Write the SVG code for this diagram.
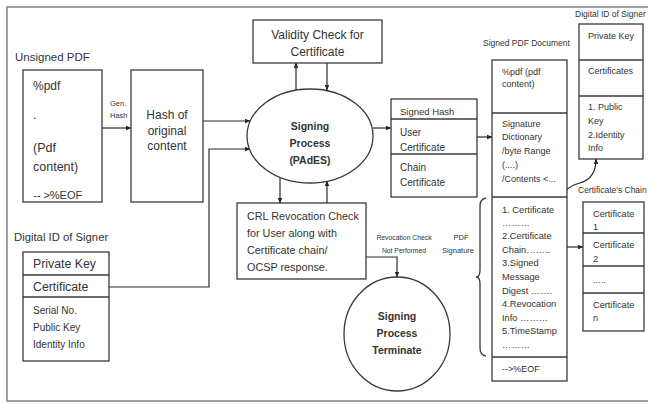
<svg xmlns="http://www.w3.org/2000/svg" width="648" height="404" viewBox="0 0 648 404">
<defs>
<marker id="ah" viewBox="0 0 10 10" refX="9" refY="5" markerWidth="6" markerHeight="6" orient="auto-start-reverse" markerUnits="userSpaceOnUse">
<path d="M0,1 L10,5 L0,9 z" fill="#262626"/>
</marker>
<style>
text{font-family:"Liberation Sans",Arial,sans-serif;fill:#333333;}
.box{fill:#ffffff;stroke:#3a3a3a;stroke-width:1.3;}
.ln{fill:none;stroke:#3a3a3a;stroke-width:1.3;}
.con{fill:none;stroke:#2a2a2a;stroke-width:1.2;}
.arr{fill:none;stroke:#2a2a2a;stroke-width:1.2;marker-end:url(#ah);}
.b{font-weight:bold;}
.mid{text-anchor:middle;}
</style>
</defs>
<rect x="0" y="0" width="648" height="404" fill="#ffffff"/>
<rect x="7" y="7" width="660" height="394" fill="none" stroke="#8a8a8a" stroke-width="1.6"/>

<g id="connectors">
<line class="arr" x1="102" y1="128" x2="131" y2="128"/>
<line class="arr" x1="203" y1="121" x2="250" y2="121"/>
<polyline class="arr" points="109,287 209,287 209,149 250,149"/>
<line class="arr" x1="296" y1="90" x2="296" y2="63"/>
<line class="arr" x1="327" y1="63" x2="327" y2="90"/>
<line class="arr" x1="280" y1="177" x2="280" y2="203"/>
<line class="arr" x1="327" y1="203" x2="327" y2="181"/>
<polyline class="arr" points="366,257 397,257 397,277"/>
<line class="arr" x1="373" y1="128" x2="391" y2="128"/>
<line class="arr" x1="477" y1="137" x2="492" y2="137"/>
<line class="arr" x1="554" y1="247" x2="583" y2="247"/>
<path class="con" d="M557,210 C559,193 568,186 580,183 C591,180 596,172 596,159" marker-start="url(#ah)" marker-end="url(#ah)"/>
<path class="ln" d="M486,198 Q480,199 480,206 L480,270 Q480,277 476,277 Q480,277 480,284 L480,348 Q480,355 486,356"/>
</g>

<g id="unsigned-pdf">
<text x="15" y="61" font-size="11.5">Unsigned PDF</text>
<rect class="box" x="23" y="70" width="79" height="132"/>
<text x="33" y="90" font-size="12">%pdf</text>
<text x="33" y="119" font-size="12">.</text>
<text x="33" y="152" font-size="12.5">(Pdf</text>
<text x="33" y="171" font-size="12.5">content)</text>
<text x="33" y="199" font-size="11">-- &gt;%EOF</text>
</g>

<g id="gen-hash-label">
<text x="110" y="106" font-size="7.5">Gen.</text>
<text x="110" y="118" font-size="7.5">Hash</text>
</g>

<g id="hash-box">
<rect class="box" x="131" y="70" width="72" height="132"/>
<text class="mid" x="167" y="119" font-size="12">Hash of</text>
<text class="mid" x="167" y="135" font-size="12">original</text>
<text class="mid" x="167" y="150" font-size="12">content</text>
</g>

<g id="validity-check">
<rect class="box" x="253" y="20" width="129" height="43"/>
<text class="mid" x="317.5" y="39" font-size="12">Validity Check for</text>
<text class="mid" x="317.5" y="56" font-size="12">Certificate</text>
</g>

<g id="signing-process">
<ellipse class="box" cx="310" cy="136" rx="63" ry="47"/>
<text class="mid b" x="310" y="130" font-size="10.5">Signing</text>
<text class="mid b" x="310" y="147" font-size="10.5">Process</text>
<text class="mid b" x="310" y="164" font-size="10.5">(PAdES)</text>
</g>

<g id="crl-check">
<rect class="box" x="237" y="203" width="129" height="76"/>
<text x="247" y="220" font-size="10.8">CRL Revocation  Check</text>
<text x="247" y="237" font-size="10.8">for User along with</text>
<text x="247" y="254" font-size="10.8">Certificate chain/</text>
<text x="247" y="271" font-size="10.8">OCSP response.</text>
</g>

<g id="revocation-label">
<text class="mid" x="404" y="240" font-size="6.8">Revocation Check</text>
<text class="mid" x="404" y="253" font-size="6.8">Not Performed</text>
<text class="mid" x="461" y="240" font-size="7.5">PDF</text>
<text class="mid" x="458" y="253" font-size="7.5">Signature</text>
</g>

<g id="signing-terminate">
<ellipse class="box" cx="397" cy="334" rx="53" ry="57"/>
<text class="mid b" x="397" y="320" font-size="10.5">Signing</text>
<text class="mid b" x="397" y="337" font-size="10.5">Process</text>
<text class="mid b" x="397" y="354" font-size="10.5">Terminate</text>
</g>

<g id="digital-id-left">
<text x="14" y="241" font-size="11.3">Digital ID of Signer</text>
<rect class="box" x="23" y="252" width="86" height="109"/>
<line class="ln" x1="23" y1="275" x2="109" y2="275"/>
<line class="ln" x1="23" y1="297" x2="109" y2="297"/>
<text x="33" y="268" font-size="12.3">Private Key</text>
<text x="33" y="291" font-size="12.3">Certificate</text>
<text x="33" y="314" font-size="10">Serial No.</text>
<text x="33" y="331" font-size="10">Public Key</text>
<text x="33" y="348" font-size="10">Identity Info</text>
</g>

<g id="signed-hash">
<rect class="box" x="391" y="99" width="86" height="98"/>
<line class="ln" x1="391" y1="119" x2="477" y2="119"/>
<line class="ln" x1="391" y1="154" x2="477" y2="154"/>
<text x="400" y="115" font-size="9.5">Signed Hash</text>
<text x="400" y="136" font-size="10">User</text>
<text x="400" y="151" font-size="10">Certificate</text>
<text x="400" y="171" font-size="10">Chain</text>
<text x="400" y="186" font-size="10">Certificate</text>
</g>

<g id="signed-pdf">
<text x="483" y="46" font-size="8.5">Signed PDF Document</text>
<rect class="box" x="492" y="60" width="75" height="321"/>
<line class="ln" x1="492" y1="113" x2="567" y2="113"/>
<line class="ln" x1="492" y1="197" x2="567" y2="197"/>
<line class="ln" x1="492" y1="357" x2="567" y2="357"/>
<text x="502" y="75" font-size="9">%pdf (pdf</text>
<text x="502" y="87" font-size="9">content)</text>
<text x="502" y="127" font-size="9">Signature</text>
<text x="502" y="140" font-size="9">Dictionary</text>
<text x="502" y="154" font-size="9">/byte Range</text>
<text x="502" y="168" font-size="9">(....)</text>
<text x="502" y="182" font-size="9">/Contents &lt;...</text>
<text x="502" y="213" font-size="9.3">1. Certificate</text>
<text x="502" y="226" font-size="9.3" fill="#777">………</text>
<text x="502" y="239" font-size="9.3">2.Certificate</text>
<text x="502" y="253" font-size="9.3">Chain……..</text>
<text x="502" y="266" font-size="9.3">3.Signed</text>
<text x="502" y="280" font-size="9.3">Message</text>
<text x="502" y="294" font-size="9.3">Digest …….</text>
<text x="502" y="307" font-size="9.3">4.Revocation</text>
<text x="502" y="321" font-size="9.3">Info ………</text>
<text x="502" y="334" font-size="9.3">5.TimeStamp</text>
<text x="502" y="348" font-size="9.3">………</text>
<text x="502" y="372" font-size="9">--&gt;%EOF</text>
</g>

<g id="digital-id-right">
<text x="575" y="17" font-size="8.5">Digital ID of Signer</text>
<rect class="box" x="579" y="24" width="64" height="135"/>
<line class="ln" x1="579" y1="60" x2="643" y2="60"/>
<line class="ln" x1="579" y1="96" x2="643" y2="96"/>
<text x="588" y="39" font-size="9">Private Key</text>
<text x="588" y="74" font-size="9">Certificates</text>
<text x="588" y="110" font-size="9">1. Public</text>
<text x="588" y="124" font-size="9">Key</text>
<text x="588" y="138" font-size="9">2.Identity</text>
<text x="588" y="151" font-size="9">Info</text>
</g>

<g id="certificate-chain">
<text x="578" y="193" font-size="8.5">Certificate's Chain</text>
<rect class="box" x="583" y="202" width="61" height="129"/>
<line class="ln" x1="583" y1="233" x2="644" y2="233"/>
<line class="ln" x1="583" y1="266" x2="644" y2="266"/>
<line class="ln" x1="583" y1="293" x2="644" y2="293"/>
<text x="593" y="217" font-size="9.2">Certificate</text>
<text x="593" y="230" font-size="9.2">1</text>
<text x="593" y="248" font-size="9.2">Certificate</text>
<text x="593" y="262" font-size="9.2">2</text>
<text x="593" y="283" font-size="9.2">.....</text>
<text x="593" y="308" font-size="9.2">Certificate</text>
<text x="593" y="321" font-size="9.2">n</text>
</g>
</svg>
